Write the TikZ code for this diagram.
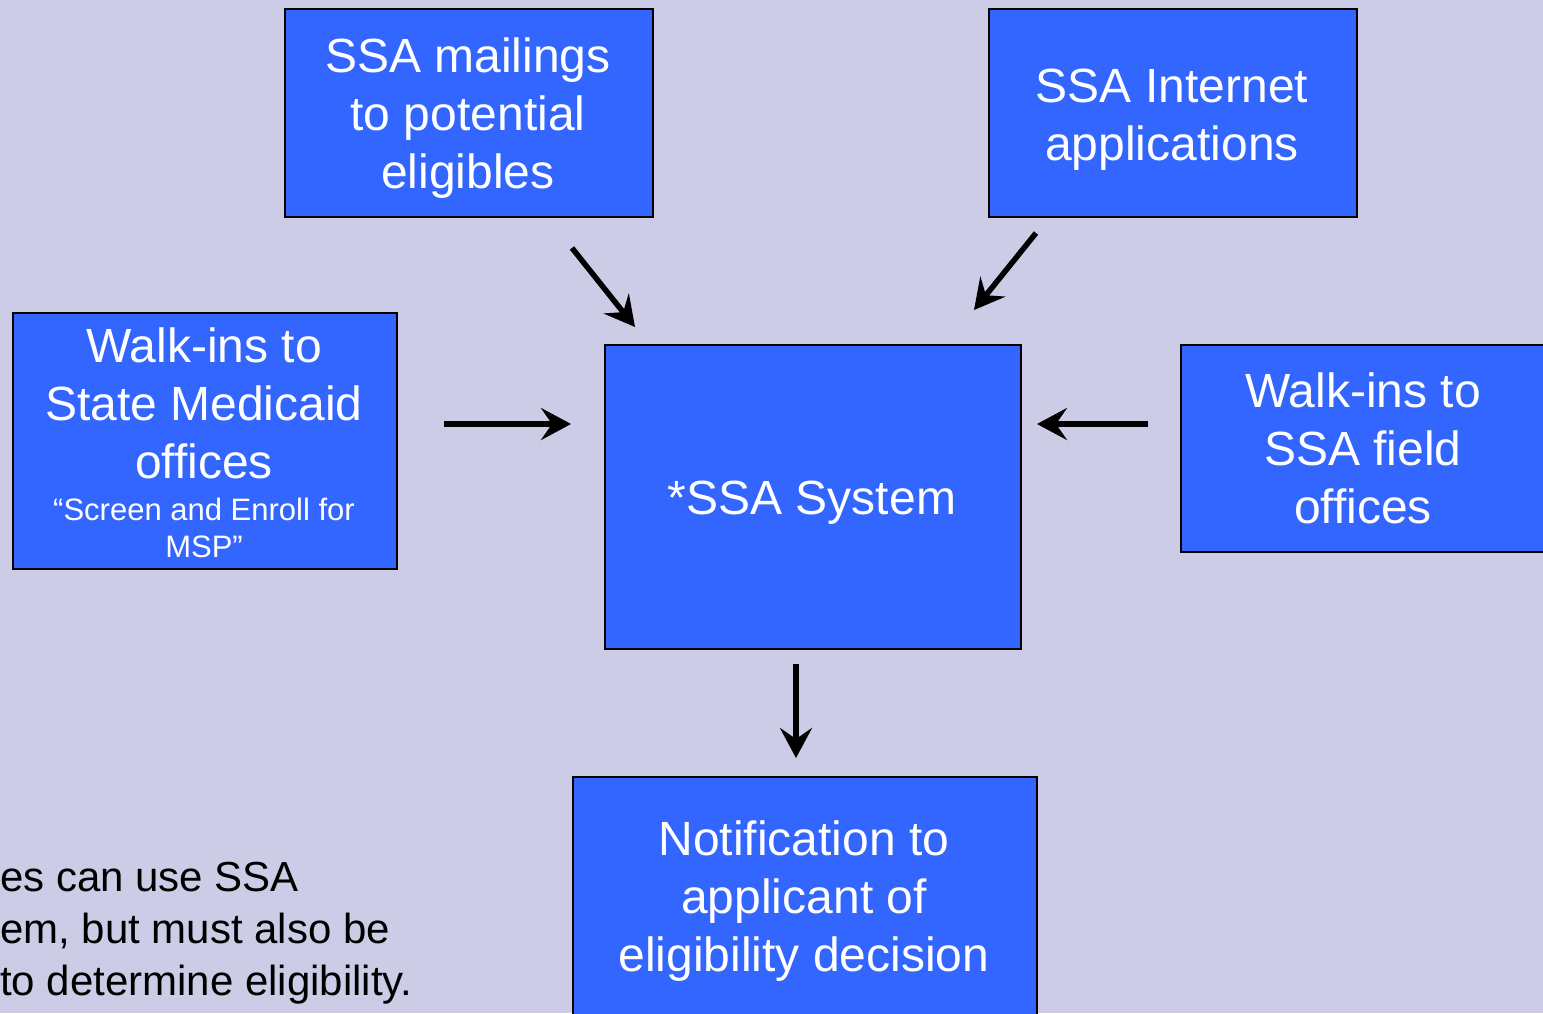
\documentclass[tikz,border=0pt]{standalone}
\usepackage{fontspec}
\setmainfont{Liberation Sans}
\usetikzlibrary{arrows.meta}
\definecolor{bg}{RGB}{204,204,230}
\definecolor{boxblue}{RGB}{51,102,255}
\tikzset{
  box/.style={draw=black, line width=2pt, fill=boxblue, inner sep=0pt, anchor=north west},
  big/.style={text=white, font=\fontsize{48}{58}\selectfont, align=center, inner sep=0pt, anchor=base},
  small/.style={text=white, font=\fontsize{31}{37}\selectfont, align=center, inner sep=0pt, anchor=base},
  note/.style={text=black, font=\fontsize{42}{52}\selectfont, align=left, inner sep=0pt, anchor=base west},
  flow/.style={line width=5.5pt, -{Stealth[length=30pt,width=32pt,inset=11pt]}}
}
\begin{document}
\begin{tikzpicture}[x=1pt,y=-1pt]
\useasboundingbox (0,0) rectangle (1543,1013);
\fill[bg] (0,0) rectangle (1543,1013);
\clip (0,0) rectangle (1543,1013);

% boxes
\node[box, minimum width=368, minimum height=208] (mail) at (284,8) {};
\node[box, minimum width=368, minimum height=208] (inet) at (988,8) {};
\node[box, minimum width=384, minimum height=256] (state) at (12,312) {};
\node[box, minimum width=416, minimum height=304] (sys) at (604,344) {};
\node[box, minimum width=400, minimum height=207] (field) at (1180,344) {};
\node[box, minimum width=464, minimum height=260] (notif) at (572,776) {};

% texts (anchor base = baseline of last line)
\node[big] (mailt) at (468,188) {SSA mailings\\to potential\\eligibles};
\node[big] (inett) at (1172,160) {SSA Internet\\applications};
\node[big] (statet) at (204,478) {Walk-ins to\\State Medicaid\\offices};
\node[small] (states) at (204,557) {“Screen and Enroll for\\MSP”};
\node[big] (syst) at (812,514) {*SSA System};
\node[big] (fieldt) at (1363,523) {Walk-ins to\\SSA field\\offices};
\node[big] (notift) at (804,971) {Notification to\\applicant of\\eligibility decision};
\node[note] (notet) at (0,995) {es can use SSA\\em, but must also be\\to determine eligibility.};

% arrow ends
\coordinate (a1s) at (572,248);
\coordinate (a1e) at (635,327);
\coordinate (a2s) at (1036,233);
\coordinate (a2e) at (974,310);
\coordinate (a3s) at (444,424);
\coordinate (a3e) at (571,424);
\coordinate (a4s) at (1148,424);
\coordinate (a4e) at (1037,424);
\coordinate (a5s) at (796,664);
\coordinate (a5e) at (796,758);

\draw[flow] (a1s) -- (a1e);
\draw[flow] (a2s) -- (a2e);
\draw[flow] (a3s) -- (a3e);
\draw[flow] (a4s) -- (a4e);
\draw[flow] (a5s) -- (a5e);
\end{tikzpicture}
\end{document}
